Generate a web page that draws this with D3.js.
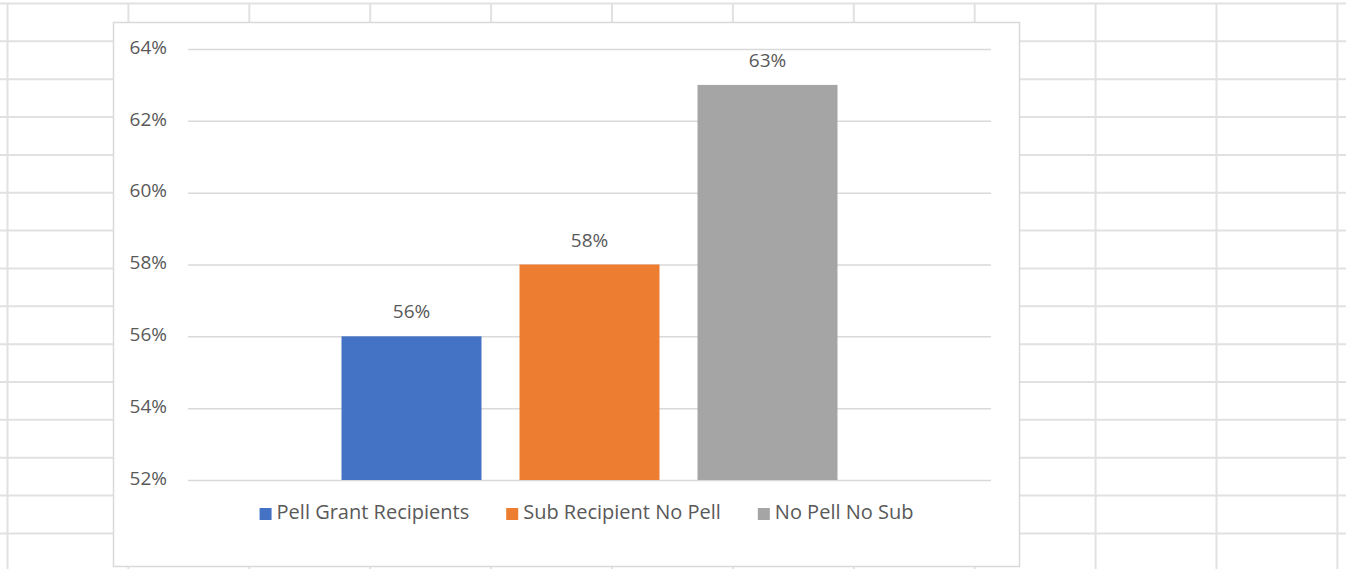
<!DOCTYPE html>
<html>
<head>
<meta charset="utf-8">
<script src="https://cdn.jsdelivr.net/npm/d3@7"></script>
<style>
    body { margin: 0; background: #fff; }
    text { font-family: "Open Sans", "Noto Sans", sans-serif; fill: #595959; }
</style>
</head>
<body>
<script>
// data
const categories = ['All Students'];
const seriesNames = ['Pell Grant Recipients', 'Sub Recipient No Pell', 'No Pell No Sub'];
const seriesValues = [0.56, 0.58, 0.63];
const seriesColors = ['#4472C4', '#ED7D31', '#A5A5A5'];
const yTicks = [0.52, 0.54, 0.56, 0.58, 0.60, 0.62, 0.64];

const W = 1346, H = 569;

const svg = d3.select(document.body)
    .append('svg')
    .attr('width', W)
    .attr('height', H);

// spreadsheet cells behind the chart
const sheet = svg.append('g').attr('class', 'sheet');
sheet.selectAll('line.row')
    .data(d3.range(16))
    .enter().append('line')
    .attr('x1', 0).attr('x2', W)
    .attr('y1', function(d){ return 3.5 + d * 37.85; })
    .attr('y2', function(d){ return 3.5 + d * 37.85; })
    .attr('stroke', '#e1e1e1')
    .attr('stroke-width', 2);
sheet.selectAll('line.col')
    .data(d3.range(12))
    .enter().append('line')
    .attr('y1', 3).attr('y2', H)
    .attr('x1', function(d){ return 7.5 + d * 120.9; })
    .attr('x2', function(d){ return 7.5 + d * 120.9; })
    .attr('stroke', '#e1e1e1')
    .attr('stroke-width', 2);

// chart area
svg.append('rect')
    .attr('x', 113.5).attr('y', 22.5)
    .attr('width', 906).attr('height', 544)
    .attr('fill', '#fff')
    .attr('stroke', '#d9d9d9')
    .attr('stroke-width', 1.5);

const plot = { left: 188, right: 991, top: 49, bottom: 480 };

const yScale = d3.scaleLinear()
    .domain([0.52, 0.64])
    .range([plot.bottom, plot.top]);

const x0 = d3.scaleBand()
    .domain(categories)
    .range([plot.left, plot.right])
    .paddingInner(0)
    .paddingOuter(0.3095);

const x1 = d3.scaleBand()
    .domain(seriesNames)
    .range([0, x0.bandwidth()])
    .paddingInner(0.2135);

// gridlines + y labels
const yAxis = d3.axisLeft(yScale)
    .tickValues(yTicks)
    .tickSize(-(plot.right - plot.left))
    .tickPadding(21)
    .tickFormat(d3.format('.0%'));

const axisG = svg.append('g')
    .attr('transform', 'translate(' + plot.left + ',0)')
    .call(yAxis);
axisG.select('.domain').remove();
axisG.selectAll('.tick line')
    .attr('stroke', '#d9d9d9')
    .attr('stroke-width', 1.5);
axisG.selectAll('.tick text')
    .attr('font-size', 19)
    .attr('dy', '0.22em')
    .style('fill', '#595959');

// bars
const group = svg.append('g')
    .attr('transform', 'translate(' + x0(categories[0]) + ',0)');

group.selectAll('rect')
    .data(seriesValues)
    .enter().append('rect')
    .attr('x', function(d, i){ return x1(seriesNames[i]); })
    .attr('y', function(d){ return yScale(d); })
    .attr('width', x1.bandwidth())
    .attr('height', function(d){ return yScale(0.52) - yScale(d); })
    .attr('fill', function(d, i){ return seriesColors[i]; });

group.selectAll('text.label')
    .data(seriesValues)
    .enter().append('text')
    .attr('class', 'label')
    .attr('x', function(d, i){ return x1(seriesNames[i]) + x1.bandwidth() / 2; })
    .attr('y', function(d){ return yScale(d) - 18; })
    .attr('text-anchor', 'middle')
    .attr('font-size', 19)
    .text(d3.format('.0%'));

// legend
const legend = svg.append('g').attr('class', 'legend');
const items = legend.selectAll('g')
    .data(seriesNames)
    .enter().append('g');
items.append('rect')
    .attr('width', 12).attr('height', 12)
    .attr('y', 508)
    .attr('fill', function(d, i){ return seriesColors[i]; });
items.append('text')
    .attr('x', 17)
    .attr('y', 519)
    .attr('font-size', 20)
    .text(function(d){ return d; });

let cursor = 0;
const widths = [];
items.each(function(){
    widths.push(17 + this.querySelector('text').getComputedTextLength());
});
const total = d3.sum(widths) + 37 * (widths.length - 1);
cursor = 586.5 - total / 2;
items.attr('transform', function(d, i){
    const tx = cursor;
    cursor += widths[i] + 37;
    return 'translate(' + tx + ',0)';
});
</script>
</body>
</html>
